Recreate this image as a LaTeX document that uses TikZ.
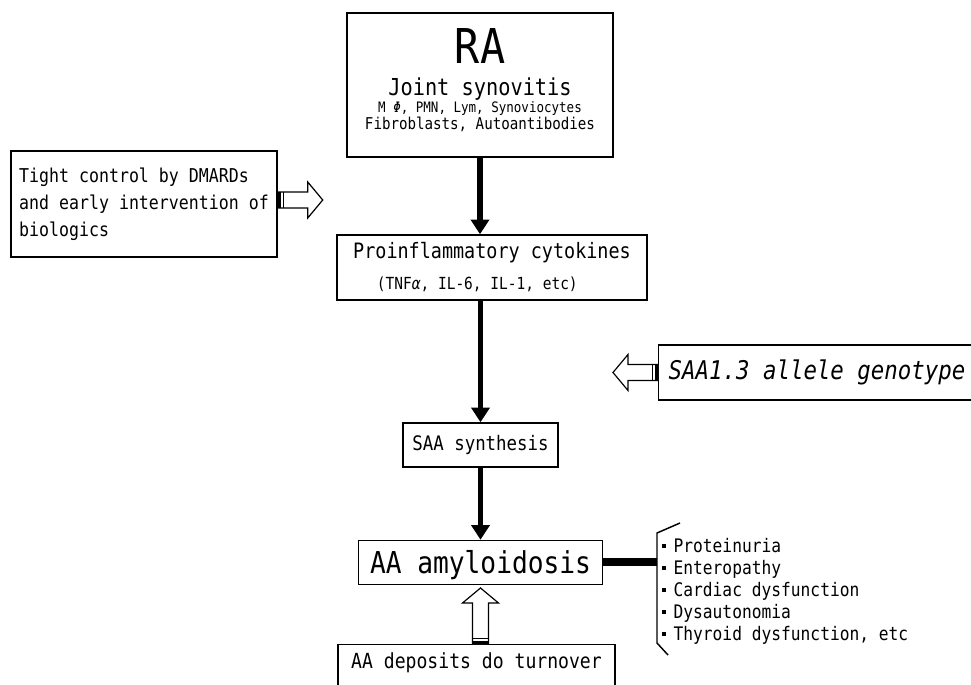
\documentclass[tikz,border=0pt]{standalone}
\usepackage{fontspec}
\setmainfont{DejaVu Sans Mono}[FakeStretch=0.87]
\usepackage{tikz}
\usetikzlibrary{positioning}
\usetikzlibrary{arrows.meta}
\newcommand{\fsz}[1]{\fontsize{#1}{#1}\selectfont}
\newcommand{\rowsflat}{\fontsize{10}{0}\selectfont\lineskiplimit=-\maxdimen}
\newcommand{\itm}{\rule[3pt]{3pt}{3pt}\hspace{5.5pt}}
\tikzstyle{box} = [draw, line width=1.1pt, inner sep=0pt]
\tikzstyle{flow} = [line width=3.8pt, -{Triangle[length=11pt,width=13.5pt]}]
\tikzstyle{bar} = [line width=6pt]
\tikzset{pics/hollow arrow/.style={code={
    \draw[line width=0.9pt, fill=white] (0,-8) -- (#1-15,-8) -- (#1-15,-18) -- (#1,0)
        -- (#1-15,18) -- (#1-15,8) -- (0,8) -- cycle;
    \fill (0,-8) rectangle (3,8);
    \fill (5,-8) rectangle (6.5,8);
}}}

\begin{document}
\begin{tikzpicture}[x=0.75pt, y=-0.75pt]
        \useasboundingbox (0,0) rectangle (971,685);
        \clip (0,0) rectangle (971,685);

        \node[box, minimum width=199.5pt, minimum height=108pt, align=center, font=\rowsflat] (ra) at (480,85)
            {\fsz{36}RA\\[24pt]\fsz{17.5}Joint synovitis\\[12.5pt]\fsz{10.8}M {\itshape Φ}, PMN, Lym, Synoviocytes\\[12.75pt]\fsz{12.2}Fibroblasts, Autoantibodies\rule[-9pt]{0pt}{1pt}};
        \node[box, minimum width=232.5pt, minimum height=48.75pt, align=center, font=\rowsflat] (cyto) at (492,267.5)
            {\fsz{15.9}Proinflammatory cytokines\\[23.25pt]\fsz{12.5}(TNF{\itshape α}, IL-6, IL-1, etc)\hspace*{22pt}};
        \node[box, minimum width=116.25pt, minimum height=33pt, font=\fsz{15}] (synth) at (480.5,445) {SAA synthesis};
        \node[box, minimum width=183pt, minimum height=33pt, text depth=0pt, font=\fsz{22.6}] (aa) [below=54pt of synth] {AA amyloidosis};
        \node[box, anchor=north, minimum width=207.75pt, text height=11.5pt, text depth=35pt, inner ysep=6pt, font=\fsz{15.6}] (turn) at (476.5,644) {AA deposits do turnover};

        \node[box, minimum width=199.5pt, minimum height=79.5pt, align=left, font=\fontsize{14.3}{20.25}\selectfont] (tight) at (144,204)
            {Tight control by DMARDs\\and early intervention of\\biologics};
        \node[box, anchor=west, minimum height=41.25pt, inner xsep=7.5pt, font=\fsz{19.3}\itshape] (allele) at (658,372.5) {SAA1.3 allele genotype};

        \node[anchor=base west, align=left, inner sep=0pt, font=\fontsize{14}{16.5}\selectfont] (effects) at (662,640)
            {\itm Proteinuria\\\itm Enteropathy\\\itm Cardiac dysfunction\\\itm Dysautonomia\\\itm Thyroid dysfunction, etc};
        \coordinate (brk) at (657,562);

        \draw[flow] (ra.south) -- (ra.south |- cyto.north);
        \draw[flow] (synth.north |- cyto.south) -- (synth.north);
        \draw[flow] (synth.south) -- (aa.north);
        \draw[bar] (aa.east |- brk) -- (brk);
        \draw[line width=1.1pt] (680,523) -- (brk |- 0,533) -- (brk |- 0,643) -- (668,655);

        \pic at ([yshift=3pt]tight.east) {hollow arrow=45};
        \pic[rotate=180] at (allele.west) {hollow arrow=45};
        \pic[rotate=90] at (turn.north -| aa.south) {hollow arrow=56};
\end{tikzpicture}
\end{document}
